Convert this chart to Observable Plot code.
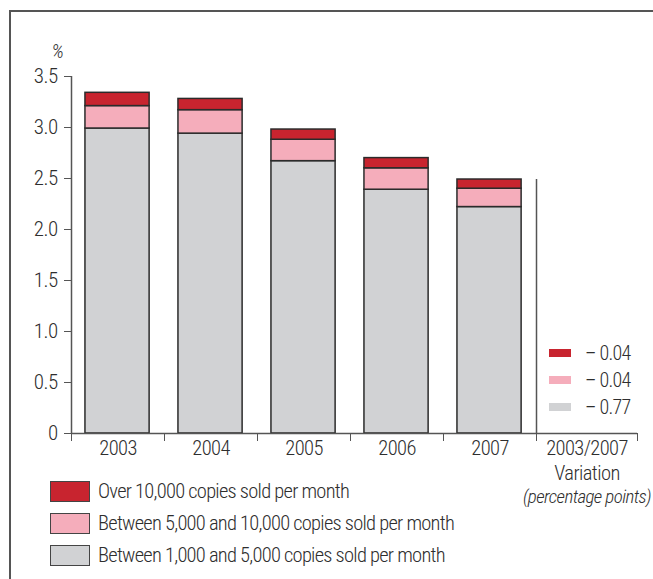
<!DOCTYPE html>
<html>
<head>
<meta charset="utf-8">
<script src="https://cdn.jsdelivr.net/npm/d3@7"></script>
<script src="https://cdn.jsdelivr.net/npm/@observablehq/plot@0.6"></script>
<style>
  html, body { margin: 0; padding: 0; background: #fff; }
  #wrap { position: relative; width: 653px; height: 579px; overflow: hidden;
          font-family: Roboto, "Noto Sans", sans-serif; font-stretch: 75%; font-weight: 330; color: #2e2e2e; }
  #frame { position: absolute; left: 9px; top: 10px; width: 660px; height: 600px;
           border-left: 2px solid #555; border-top: 2px solid #555; }
  #chart { position: absolute; left: 0; top: 0; }
  #chart svg, #chart svg text { font-stretch: 75%; font-weight: 330; }
  .leg { position: absolute; left: 50px; display: flex; align-items: center; font-size: 20.5px; letter-spacing: -0.75px; white-space: nowrap; }
  .leg .sw { width: 38px; height: 19px; border: 1.5px solid #444; margin-right: 8px; }
  .vleg { position: absolute; left: 549px; display: flex; align-items: center; font-size: 20px; letter-spacing: -0.7px; white-space: nowrap; }
  .vleg .sw { width: 22px; height: 8px; margin-right: 14px; }
</style>
</head>
<body>
<div id="wrap">
  <div id="frame"></div>
  <div id="chart"></div>
</div>
<script>
// ---- data ----
const years = ["2003", "2004", "2005", "2006", "2007"];
const seriesNames = [
  "Between 1,000 and 5,000 copies sold per month",
  "Between 5,000 and 10,000 copies sold per month",
  "Over 10,000 copies sold per month"
];
const seriesColors = ["#d1d2d4", "#f5adbb", "#c8242f"];
const between1000and5000 = [2.99, 2.94, 2.67, 2.39, 2.22];
const between5000and10000 = [0.22, 0.23, 0.21, 0.21, 0.18];
const over10000 = [0.13, 0.11, 0.10, 0.10, 0.09];
const variation = [-0.77, -0.04, -0.04]; // same order as seriesNames
const yTicks = [0, 0.5, 1.0, 1.5, 2.0, 2.5, 3.0, 3.5];
const variationLabel = ["2003/2007", "Variation", "(percentage points)"];
const yUnit = "%";

// ---- build stacked rows ----
const seriesValues = [between1000and5000, between5000and10000, over10000];
const rows = [];
years.forEach((yr, i) => {
  let base = 0;
  seriesValues.forEach((vals, s) => {
    rows.push({i, year: yr, series: seriesNames[s], y1: base, y2: base + vals[i]});
    base += vals[i];
  });
});
const totals = years.map((_, i) => seriesValues.reduce((a, v) => a + v[i], 0));
const varEnd = years.length + 1.086; // wider last column for the variation section
const tickVals = d3.range(years.length + 1).concat([varEnd]);
const varCenter = (years.length + varEnd) / 2;

const font = 'Roboto, "Noto Sans", sans-serif';

const chart = Plot.plot({
  width: 653,
  height: 520,
  marginLeft: 71,
  marginRight: 16,
  marginTop: 76,
  marginBottom: 87,
  style: {fontFamily: font, fontStretch: "75%", fontWeight: 330, letterSpacing: "-0.6px",
          color: "#2e2e2e", background: "transparent", overflow: "visible"},
  x: {type: "linear", domain: [0, varEnd], axis: null},
  y: {domain: [0, 3.5], axis: null},
  color: {domain: seriesNames, range: seriesColors},
  marks: [
    Plot.rect(rows, {
      x1: d => d.i + 0.15, x2: d => d.i + 0.84,
      y1: "y1", y2: "y2",
      fill: "series", stroke: "#2b2b2b", strokeWidth: 1.5
    }),
    Plot.ruleX([0], {y1: 0, y2: 3.5, stroke: "#555", strokeWidth: 1.5}),
    Plot.axisY({ticks: yTicks, tickSize: 7, tickPadding: 7, fontSize: 21,
      tickFormat: d => d === 0 ? "0" : d.toFixed(1), stroke: "#555"}),
    Plot.ruleY([0], {x1: 0, x2: varEnd, stroke: "#555", strokeWidth: 1.5}),
    Plot.axisX({ticks: tickVals, tickSize: 8, tickFormat: () => "", stroke: "#555"}),
    Plot.ruleX([years.length], {y1: 0, y2: totals[totals.length - 1], stroke: "#555", strokeWidth: 1.5}),
    Plot.text(years, {x: (d, i) => i + 0.5, frameAnchor: "bottom", dy: 21, fontSize: 20.5, fill: "#2e2e2e"}),
    Plot.text([variationLabel[0]], {x: () => varCenter, frameAnchor: "bottom", dy: 21, fontSize: 20.5, fill: "#2e2e2e"}),
    Plot.text([variationLabel[1]], {x: () => varCenter, frameAnchor: "bottom", dy: 46, fontSize: 20.5, fill: "#2e2e2e"}),
    Plot.text([variationLabel[2]], {x: () => varCenter, frameAnchor: "bottom", dy: 69, fontSize: 19, fill: "#2e2e2e", fontStyle: "italic"}),
    Plot.text([yUnit], {frameAnchor: "top-left", dx: -20, dy: -33, fontSize: 20, fill: "#2e2e2e", fontStyle: "italic"})
  ]
});
document.getElementById("chart").appendChild(chart);

// ---- legends ----
const wrap = document.getElementById("wrap");
// bottom legend (top series first)
[2, 1, 0].forEach((s, k) => {
  const d = document.createElement("div");
  d.className = "leg";
  d.style.top = (480 + k * 32) + "px";
  d.style.height = "22px";
  d.innerHTML = `<span class="sw" style="background:${seriesColors[s]}"></span><span>${seriesNames[s]}</span>`;
  wrap.appendChild(d);
});
// variation legend
const fmt = v => (v < 0 ? "\u2013\u00a0" : "") + Math.abs(v).toFixed(2);
[2, 1, 0].forEach((s, k) => {
  const d = document.createElement("div");
  d.className = "vleg";
  d.style.top = (343 + k * 27) + "px";
  d.style.height = "20px";
  d.innerHTML = `<span class="sw" style="background:${seriesColors[s]}"></span><span>${fmt(variation[s])}</span>`;
  wrap.appendChild(d);
});
</script>
</body>
</html>
